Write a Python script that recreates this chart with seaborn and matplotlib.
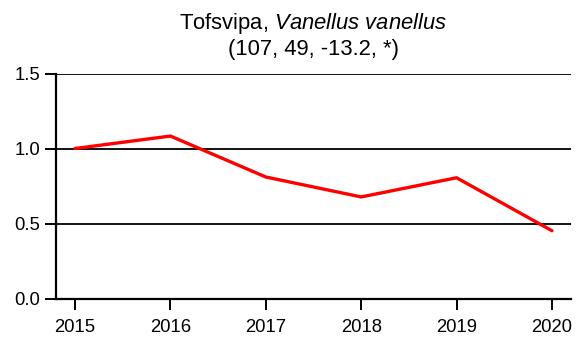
import matplotlib
matplotlib.use("Agg")
import matplotlib.pyplot as plt
import seaborn as sns
import pandas as pd

years = [2015, 2016, 2017, 2018, 2019, 2020]
index = [1.0, 1.083, 0.81, 0.677, 0.805, 0.452]
y_ticks = [0.0, 0.5, 1.0, 1.5]

sns.set_style("white")
plt.rcParams["font.family"] = ["Liberation Sans", "DejaVu Sans"]
plt.rcParams["mathtext.fontset"] = "custom"
plt.rcParams["mathtext.rm"] = "Liberation Sans"
plt.rcParams["mathtext.it"] = "Liberation Sans:italic"
plt.rcParams["text.color"] = "black"
plt.rcParams["axes.labelcolor"] = "black"

df = pd.DataFrame({"year": years, "index": index})

fig = plt.figure(figsize=(5.8, 3.38), dpi=100)
ax = fig.add_axes([56 / 580, 1 - 298.5 / 338, (571 - 56) / 580, (298.5 - 73.5) / 338])

for v in y_ticks[1:]:
    ax.axhline(v, color="black", lw=1.3, zorder=1)

sns.lineplot(data=df, x="year", y="index", color="#ff0000", lw=2.4, ax=ax, zorder=3)

ax.set_xlim(2014.8, 2020.2)
ax.set_ylim(0, 1.5)
ax.set_xticks(years)
ax.set_yticks(y_ticks)
ax.set_yticklabels([f"{v:.1f}" for v in y_ticks])
ax.set_xlabel("")
ax.set_ylabel("")
for s in ["top", "right"]:
    ax.spines[s].set_visible(False)
for s in ["left", "bottom"]:
    ax.spines[s].set_color("black")
    ax.spines[s].set_linewidth(1.6)
ax.tick_params(axis="both", bottom=True, left=True, direction="out", length=8,
               width=1.4, colors="black", labelcolor="black", labelsize=13.3)
ax.tick_params(axis="x", pad=7)
ax.tick_params(axis="y", pad=3.5)
ax.set_title("Tofsvipa, $\\mathit{Vanellus\\ vanellus}$\n(107, 49, -13.2, *)",
             fontsize=15.8, linespacing=1.22, pad=13, color="black")

fig.savefig("out.png", dpi=100)
